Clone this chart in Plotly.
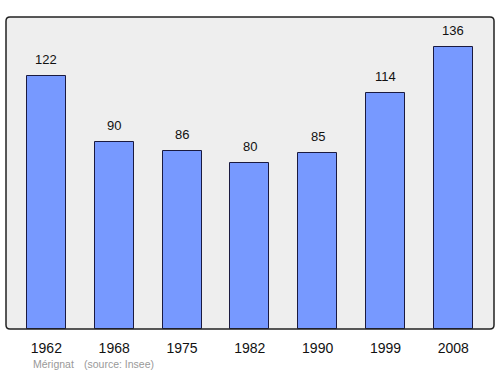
import plotly.graph_objects as go

years = ["1962", "1968", "1975", "1982", "1990", "1999", "2008"]
population = [122, 90, 86, 80, 85, 114, 136]
footer_place = "Mérignat"
footer_source = "(source: Insee)"

xs = list(range(len(years)))

W, H = 500, 374
ML, MR, MT, MB = 6, 6, 17, 45
pw, ph = W - ML - MR, H - MT - MB
rx, ry = 4 / pw, 4 / ph

fig = go.Figure()
fig.add_trace(go.Bar(
    x=xs, y=population, width=0.575,
    marker=dict(color="#7799ff", line=dict(color="#1a1a40", width=1)),
    hoverinfo="skip",
))

for x, v in zip(xs, population):
    fig.add_annotation(x=x, y=v, text=str(v), showarrow=False, yanchor="bottom",
                       yshift=7, font=dict(family="Liberation Sans, Arial", size=13, color="#111"))

fig.add_annotation(xref="paper", yref="paper", x=0.051, y=-0.088, xanchor="left", yanchor="top",
                   text=footer_place, showarrow=False,
                   font=dict(family="Liberation Sans, Arial", size=10.5, color="#999"))
fig.add_annotation(xref="paper", yref="paper", x=0.155, y=-0.088, xanchor="left", yanchor="top",
                   text=footer_source, showarrow=False,
                   font=dict(family="Liberation Sans, Arial", size=10.5, color="#999"))

path = (f"M {rx},0 L {1-rx},0 Q 1,0 1,{ry} L 1,{1-ry} Q 1,1 {1-rx},1 "
        f"L {rx},1 Q 0,1 0,{1-ry} L 0,{ry} Q 0,0 {rx},0 Z")

fig.update_layout(
    width=W, height=H,
    margin=dict(l=ML, r=MR, t=MT, b=MB),
    paper_bgcolor="white", plot_bgcolor="#eeeeee",
    showlegend=False,
    bargap=0,
    xaxis=dict(range=[-0.595, 6.6], tickmode="array", tickvals=xs, ticktext=years,
               showgrid=False, zeroline=False, showline=False, ticks="",
               ticklabelstandoff=9,
               tickfont=dict(family="Liberation Sans, Arial", size=14, color="#111")),
    yaxis=dict(range=[0, 150.5], showgrid=False, zeroline=False, showticklabels=False, showline=False),
    shapes=[dict(type="path", xref="paper", yref="paper", path=path,
                 line=dict(color="#222", width=1.5))],
)

fig.write_html("out.html")
